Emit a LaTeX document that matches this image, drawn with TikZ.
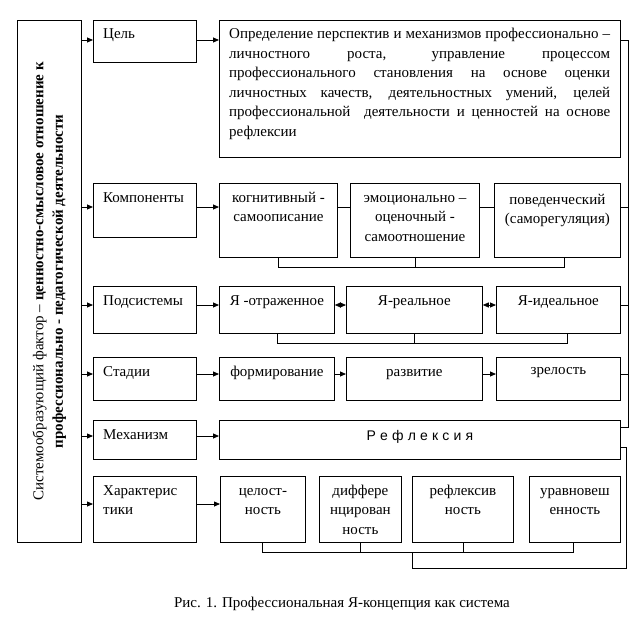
\documentclass[tikz,border=0pt]{standalone}
\usepackage{fontspec}
\setmainfont{Liberation Serif}
\newfontfamily\sansf{Liberation Sans}
\usetikzlibrary{arrows.meta,calc}
\newcommand{\ctext}[2]{\parbox[t]{#1bp}{\centering #2}}
\newcommand{\jline}[1]{\makebox[381bp][s]{#1}}
\newcommand{\mkbox}[5]{\node[bx, minimum width=#4bp, minimum height=#5bp] (#1) at (#2,#3) {};}
\newcommand{\gap}{\hspace{4.2bp}}
\begin{document}
\begin{tikzpicture}[x=1bp,y=-1bp,
  every node/.style={font=\fontsize{15bp}{19.5bp}\selectfont, text=black},
  bx/.style={draw=black, line width=0.8bp, inner sep=0pt, anchor=north west},
  tx/.style={inner sep=0pt, anchor=base west},
  tc/.style={inner sep=0pt, anchor=base},
  ln/.style={draw=black, line width=0.8bp},
  arr/.style={ln, -{Triangle[length=6bp,width=5bp]}},
  darr/.style={ln, {Triangle[length=6bp,width=5bp]}-{Triangle[length=6bp,width=5bp]}}
]
\useasboundingbox (0,0) rectangle (643,623);
\fill[white] (0,0) rectangle (643,623);

% boxes
\mkbox{lft}{17}{20}{64}{522}
\mkbox{cel}{93}{20}{103}{42}
\mkbox{goal}{219}{20}{401}{137}
\mkbox{komp}{93}{183}{103}{54}
\mkbox{k1}{219}{183}{118}{74}
\mkbox{k2}{350}{183}{129}{74}
\mkbox{k3}{494}{183}{126}{74}
\mkbox{pod}{93}{286}{103}{47}
\mkbox{p1}{219}{286}{115}{47}
\mkbox{p2}{346}{286}{136}{47}
\mkbox{p3}{496}{286}{124}{47}
\mkbox{st}{93}{357}{103}{43}
\mkbox{s1}{219}{357}{115}{43}
\mkbox{s2}{346}{357}{136}{43}
\mkbox{s3}{496}{357}{124}{43}
\mkbox{mech}{93}{420}{103}{39}
\mkbox{refl}{219}{420}{401}{39}
\mkbox{har}{93}{476}{103}{66}
\mkbox{c1}{220}{476}{85}{66}
\mkbox{c2}{319}{476}{82}{66}
\mkbox{c3}{412}{476}{101}{66}
\mkbox{c4}{529}{476}{91}{66}

% texts
\node[rotate=90, align=center, inner sep=0pt] (lftT) at (lft.center)
  {Системообразующий фактор – \textbf{ценностно-смысловое отношение к}\\
   \textbf{профессионально - педагогической деятельности}};
\node[tx] (celT) at ([xshift=10bp,yshift=-19bp]cel.north west) {Цель};
\node[tx] (goalT) at ([xshift=10bp,yshift=-19bp]goal.north west)
  {\parbox[t]{381bp}{\jline{Определение перспектив и механизмов профессионально –}\\
   \jline{личностного роста, управление процессом}\\
   \jline{профессионального становления на основе оценки}\\
   \jline{личностных качеств, деятельностных умений, целей}\\
   \jline{профессиональной \ деятельности и ценностей на основе}\\
   рефлексии}};
\node[tx] (kompT) at ([xshift=10bp,yshift=-19bp]komp.north west) {Компоненты};
\node[tc] (k1T) at ([yshift=-19bp]k1.north) {\ctext{116}{когнитивный -\\самоописание}};
\node[tc] (k2T) at ([yshift=-19bp]k2.north) {\ctext{127}{эмоционально –\\оценочный -\\самоотношение}};
\node[tc] (k3T) at ([yshift=-21bp]k3.north) {\ctext{124}{поведенческий\\(саморегуляция)}};
\node[tx] (podT) at ([xshift=10bp,yshift=-19bp]pod.north west) {Подсистемы};
\node[tc] (p1T) at ([yshift=-19bp]p1.north) {Я -отраженное};
\node[tc] (p2T) at ([yshift=-19bp]p2.north) {Я-реальное};
\node[tc] (p3T) at ([yshift=-19bp]p3.north) {Я-идеальное};
\node[tx] (stT) at ([xshift=10bp,yshift=-19bp]st.north west) {Стадии};
\node[tc] (s1T) at ([yshift=-19bp]s1.north) {формирование};
\node[tc] (s2T) at ([yshift=-19bp]s2.north) {развитие};
\node[tc] (s3T) at ([yshift=-17bp]s3.north) {зрелость};
\node[tx] (mechT) at ([xshift=10bp,yshift=-19bp]mech.north west) {Механизм};
\node[tc, font=\sansf\fontsize{14bp}{17bp}\selectfont] (reflT) at ([yshift=-20bp]refl.north)
  {Р\gap е\gap ф\gap л\gap е\gap к\gap с\gap и\gap я};
\node[tx] (harT) at ([xshift=10bp,yshift=-19bp]har.north west)
  {\parbox[t]{90bp}{Характерис\\тики}};
\node[tc] (c1T) at ([yshift=-19bp]c1.north) {\ctext{83}{целост-\\ность}};
\node[tc] (c2T) at ([yshift=-19bp]c2.north) {\ctext{80}{диффере\\нцирован\\ность}};
\node[tc] (c3T) at ([yshift=-19bp]c3.north) {\ctext{99}{рефлексив\\ность}};
\node[tc] (c4T) at ([yshift=-19bp]c4.north) {\ctext{89}{уравновеш\\енность}};
\node[tc] (cap) at (342,607) {Рис. 1. Профессиональная Я-концепция как система};

% row levels
\coordinate (r1) at (0,40);
\coordinate (r2) at (0,207);
\coordinate (r3) at (0,305);
\coordinate (r4) at (0,374);
\coordinate (r5) at (0,436);
\coordinate (r6) at (0,504);

% arrows from the left box
\foreach \b/\r in {cel/r1, komp/r2, pod/r3, st/r4, mech/r5, har/r6}
  \draw[arr] (lft.east |- \r) -- (\b.west |- \r);
% arrows from the labels
\draw[arr] (cel.east |- r1) -- (goal.west |- r1);
\draw[arr] (komp.east |- r2) -- (k1.west |- r2);
\draw[arr] (pod.east |- r3) -- (p1.west |- r3);
\draw[arr] (st.east |- r4) -- (s1.west |- r4);
\draw[arr] (mech.east |- r5) -- (refl.west |- r5);
\draw[arr] (har.east |- r6) -- (c1.west |- r6);
% links inside rows
\draw[ln] (k1.east |- r2) -- (k2.west |- r2);
\draw[ln] (k2.east |- r2) -- (k3.west |- r2);
\draw[darr] (p1.east |- r3) -- (p2.west |- r3);
\draw[darr] (p2.east |- r3) -- (p3.west |- r3);
\draw[arr] (s1.east |- r4) -- (s2.west |- r4);
\draw[arr] (s2.east |- r4) -- (s3.west |- r4);

% right collecting line 1
\coordinate (L1t) at (628,40);
\coordinate (L1b) at (628,427);
\draw[ln] (goal.east |- r1) -- (L1t) -- (L1b) -- (refl.east |- L1b);
\draw[ln] (k3.east |- r2) -- (L1t |- r2);
\draw[ln] (p3.east |- r3) -- (L1t |- r3);
\draw[ln] (s3.east |- r4) -- (L1t |- r4);

% brackets
\coordinate (b2) at (0,267);
\coordinate (k3b) at ([xshift=7bp]k3.south);
\draw[ln] (k1.south) -- (k1.south |- b2) -- (k3b |- b2) -- (k3b);
\draw[ln] (k2.south) -- (k2.south |- b2);
\coordinate (b3) at (0,343);
\coordinate (p3b) at ([xshift=9bp]p3.south);
\draw[ln] (p1.south) -- (p1.south |- b3) -- (p3b |- b3) -- (p3b);
\draw[ln] (p2.south) -- (p2.south |- b3);
\coordinate (b6) at (0,552);
\draw[ln] ([xshift=-1bp]c1.south) -- ([xshift=-1bp]c1.south |- b6) -- ([xshift=-2bp]c4.south |- b6) -- ([xshift=-2bp]c4.south);
\draw[ln] (c2.south) -- (c2.south |- b6);
\draw[ln] (c3.south) -- (c3.south |- b6);

% right collecting line 2
\coordinate (L2t) at (626,447);
\coordinate (L2b) at (626,568);
\coordinate (B6) at (412,552);
\draw[ln] (refl.east |- L2t) -- (L2t) -- (L2b) -| (B6);
\end{tikzpicture}
\end{document}
